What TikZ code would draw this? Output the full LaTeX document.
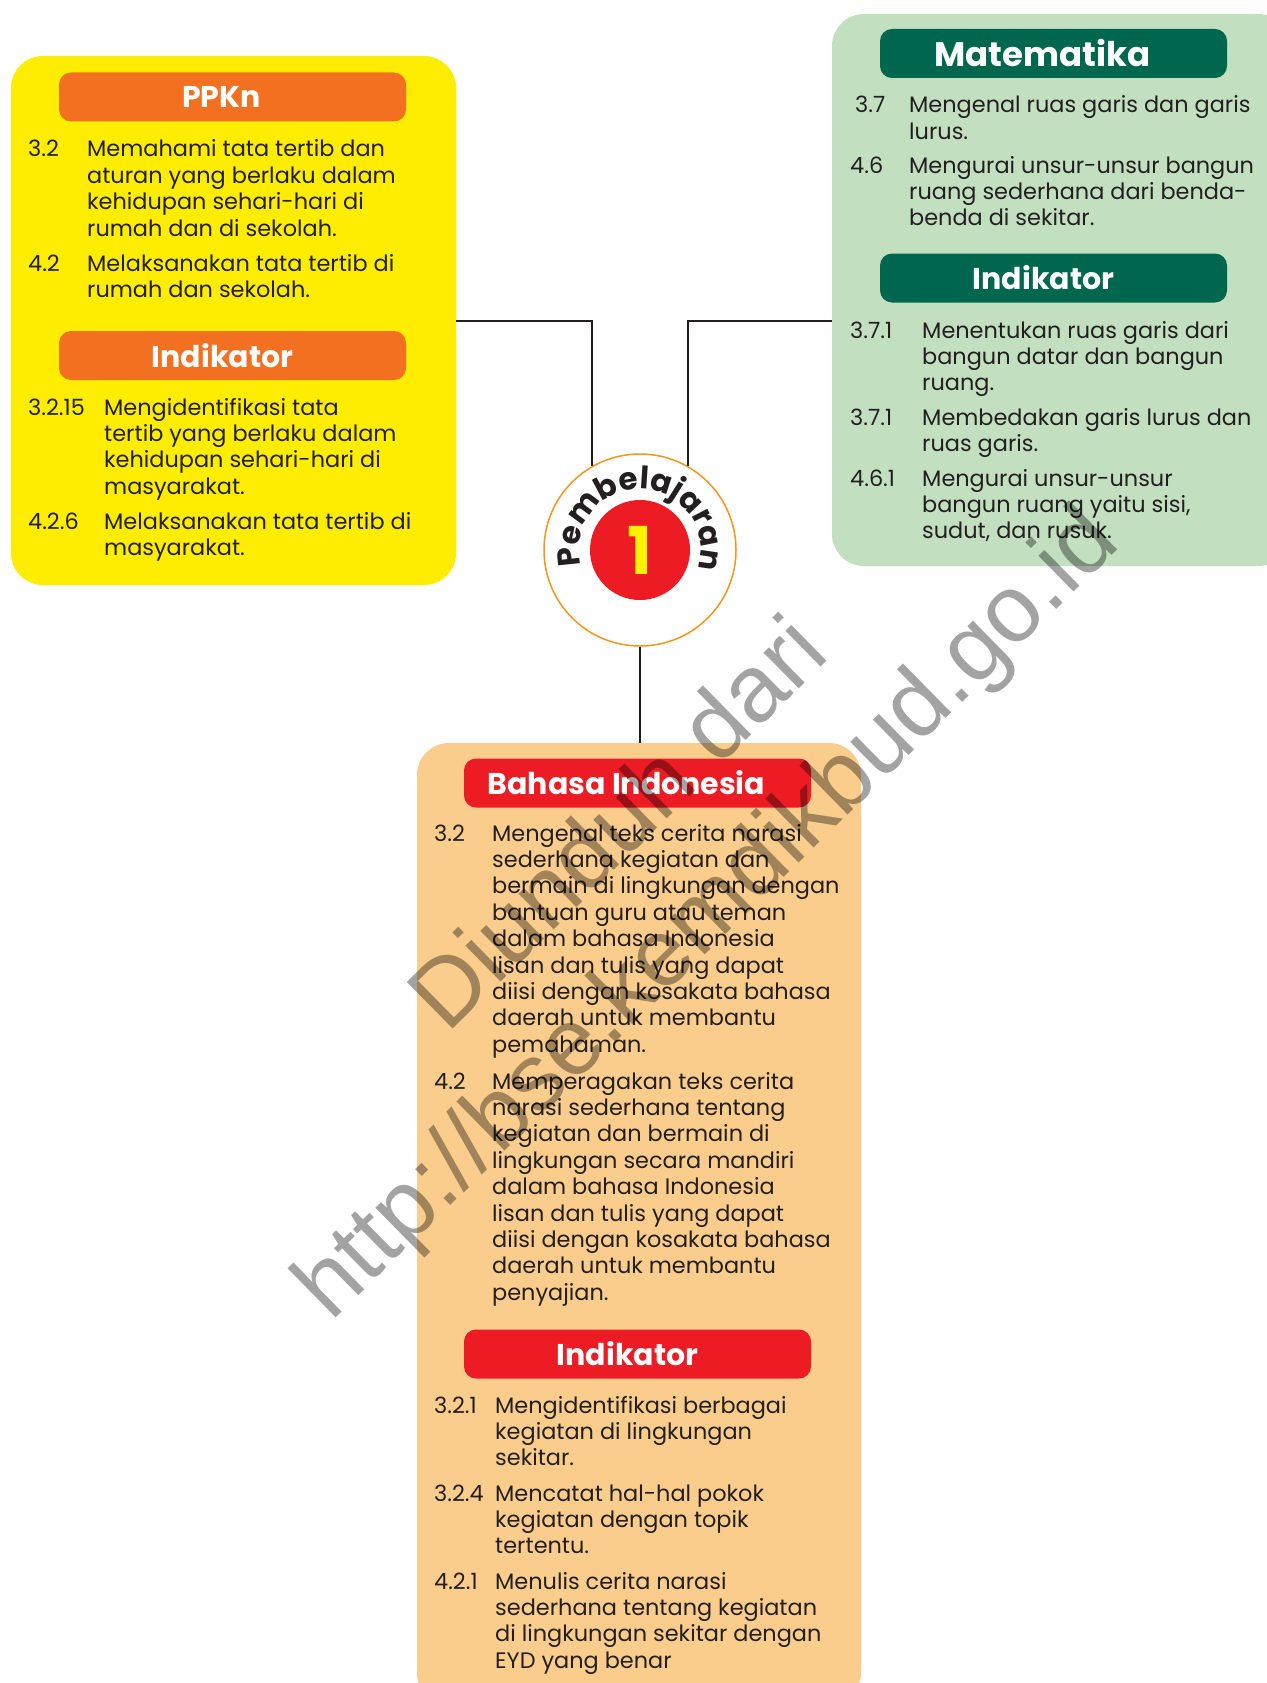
\documentclass[tikz,border=0pt]{standalone}
\usepackage{fontspec}
\setmainfont{Poppins}
\newfontfamily\markfont{Liberation Sans}
\usetikzlibrary{calc,decorations.text}
\definecolor{Lemon}{HTML}{FFED00}
\definecolor{Tangerine}{HTML}{F37021}
\definecolor{Mint}{HTML}{C2E0C0}
\definecolor{Forest}{HTML}{00674F}
\definecolor{Peach}{HTML}{FBCD8C}
\definecolor{Scarlet}{HTML}{ED1C24}
\definecolor{Amber}{HTML}{F7941D}
\definecolor{Sun}{HTML}{FFF200}
\definecolor{Ink}{HTML}{231F20}
\newcommand\pembfont{\fontsize{31}{31}\selectfont\bfseries}
\newcommand\itemlines[1]{\begin{tabular}[t]{@{}l@{}}#1\end{tabular}}

\begin{document}
\begin{tikzpicture}[x=1pt,y=-1pt,
  box/.style={rounded corners=32pt,inner sep=0pt},
  head/.style={rounded corners=12pt,minimum width=347pt,minimum height=49pt,inner sep=0pt},
  headtext/.style={inner sep=0pt,text=white,font=\fontsize{30}{32}\selectfont\bfseries},
  itemnum/.style={anchor=base west,inner sep=0pt,text=Ink,font=\fontsize{22.4}{26.4}\selectfont},
  itembody/.style={itemnum},
  link/.style={Ink,line width=2pt}]
        \useasboundingbox (0,0) rectangle (1266,1683);
        \node[box,fill=Lemon,minimum width=445pt,minimum height=529pt] (ppkn) at (233.5,320.5) {};
        \node[box,fill=Mint,minimum width=458pt,minimum height=552pt] (mat) at (1061,290) {};
        \node[box,fill=Peach,minimum width=444pt,minimum height=962pt] (bi) at (639,1224) {};

        \node[circle,draw=Amber,line width=1.5pt,fill=white,minimum size=192pt] (lesson) at (640,550) {};
        \node[circle,fill=Scarlet,minimum size=100pt,inner sep=0pt,text=Sun,font=\fontsize{66}{66}\selectfont\bfseries] (unit) at (lesson) {1};
        \path[decorate,decoration={text along path,text={|\pembfont|Pembelajaran},text color=Ink,text align={fit to path}}]
          ($(lesson)+(195:61pt)$) arc[start angle=195,end angle=-17,radius=61pt];

        \draw[link] (ppkn.east) -| (lesson.120);
        \draw[link] (mat.west |- ppkn.east) -| (lesson.60);
        \draw[link] (lesson.south) -- (lesson.south |- bi.north);

        \node[head,fill=Tangerine] (ppknh) at (232.5,97) {};
        \node[headtext] (ppknt) at ([xshift=-11pt]ppknh.center) {PPKn};
        \node[itemnum] (p32n) at (28,157) {3.2};
        \node[itembody] (p32) at (87,157) {\itemlines{Memahami tata tertib dan\\aturan yang berlaku dalam\\kehidupan sehari-hari di\\rumah dan di sekolah.}};
        \node[itemnum] (p42n) at (28,271) {4.2};
        \node[itembody] (p42) at (87,271) {\itemlines{Melaksanakan tata tertib di\\rumah dan sekolah.}};
        \node[head,fill=Tangerine] (ppkni) at (232.5,355.5) {};
        \node[headtext] (ppknit) at ([xshift=-10pt]ppkni.center) {Indikator};
        \node[itemnum] (p3215n) at (28,415) {3.2.15};
        \node[itembody] (p3215) at (104,415) {\itemlines{Mengidentifikasi tata\\tertib yang berlaku dalam\\kehidupan sehari-hari di\\masyarakat.}};
        \node[itemnum] (p426n) at (28,529) {4.2.6};
        \node[itembody] (p426) at (104,529) {\itemlines{Melaksanakan tata tertib di\\masyarakat.}};

        \node[head,fill=Forest] (math) at (1053.5,53.5) {};
        \node[headtext,font=\fontsize{34}{36}\selectfont\bfseries] (matht) at ([xshift=-11pt]math.center) {Matematika};
        \node[itemnum] (m37n) at (855,113) {3.7};
        \node[itembody] (m37) at (909,113) {\itemlines{Mengenal ruas garis dan garis\\lurus.}};
        \node[itemnum] (m46n) at (850,173) {4.6};
        \node[itembody] (m46) at (909,173) {\itemlines{Mengurai unsur-unsur bangun\\ruang sederhana dari benda-\\benda di sekitar.}};
        \node[head,fill=Forest] (mati) at (1053.5,278) {};
        \node[headtext] (matit) at ([xshift=-10pt]mati.center) {Indikator};
        \node[itemnum] (m371n) at (850,338) {3.7.1};
        \node[itembody] (m371) at (922,338) {\itemlines{Menentukan ruas garis dari\\bangun datar dan bangun\\ruang.}};
        \node[itemnum] (m371bn) at (850,425) {3.7.1};
        \node[itembody] (m371b) at (922,425) {\itemlines{Membedakan garis lurus dan\\ruas garis.}};
        \node[itemnum] (m461n) at (850,486) {4.6.1};
        \node[itembody] (m461) at (922,486) {\itemlines{Mengurai unsur-unsur\\bangun ruang yaitu sisi,\\sudut, dan rusuk.}};

        \node[head,fill=Scarlet] (bih) at (637.5,783) {};
        \node[headtext] (biht) at ([xshift=-11pt]bih.center) {Bahasa Indonesia};
        \node[itemnum] (b32n) at (434,841) {3.2};
        \node[itembody] (b32) at (492,841) {\itemlines{Mengenal teks cerita narasi\\sederhana kegiatan dan\\bermain di lingkungan dengan\\bantuan guru atau teman\\dalam bahasa Indonesia\\lisan dan tulis yang dapat\\diisi dengan kosakata bahasa\\daerah untuk membantu\\pemahaman.}};
        \node[itemnum] (b42n) at (434,1089) {4.2};
        \node[itembody] (b42) at (492,1089) {\itemlines{Memperagakan teks cerita\\narasi sederhana tentang\\kegiatan dan bermain di\\lingkungan secara mandiri\\dalam bahasa Indonesia\\lisan dan tulis yang dapat\\diisi dengan kosakata bahasa\\daerah untuk membantu\\penyajian.}};
        \node[head,fill=Scarlet] (bii) at (637.5,1354) {};
        \node[headtext] (biit) at ([xshift=-10pt]bii.center) {Indikator};
        \node[itemnum] (b321n) at (434,1413) {3.2.1};
        \node[itembody] (b321) at (495,1413) {\itemlines{Mengidentifikasi berbagai\\kegiatan di lingkungan\\sekitar.}};
        \node[itemnum] (b324n) at (434,1501) {3.2.4};
        \node[itembody] (b324) at (495,1501) {\itemlines{Mencatat hal-hal pokok\\kegiatan dengan topik\\tertentu.}};
        \node[itemnum] (b421n) at (434,1589) {4.2.1};
        \node[itembody] (b421) at (495,1589) {\itemlines{Menulis cerita narasi\\sederhana tentang kegiatan\\di lingkungan sekitar dengan\\EYD yang benar}};

        \node[rotate=44.5,align=center,text=black,opacity=0.36,font=\markfont\fontsize{95}{124}\selectfont] (mark) at (666,872) {Diunduh dari\\http://bse.kemdikbud.go.id};
      \end{tikzpicture}
\end{document}
